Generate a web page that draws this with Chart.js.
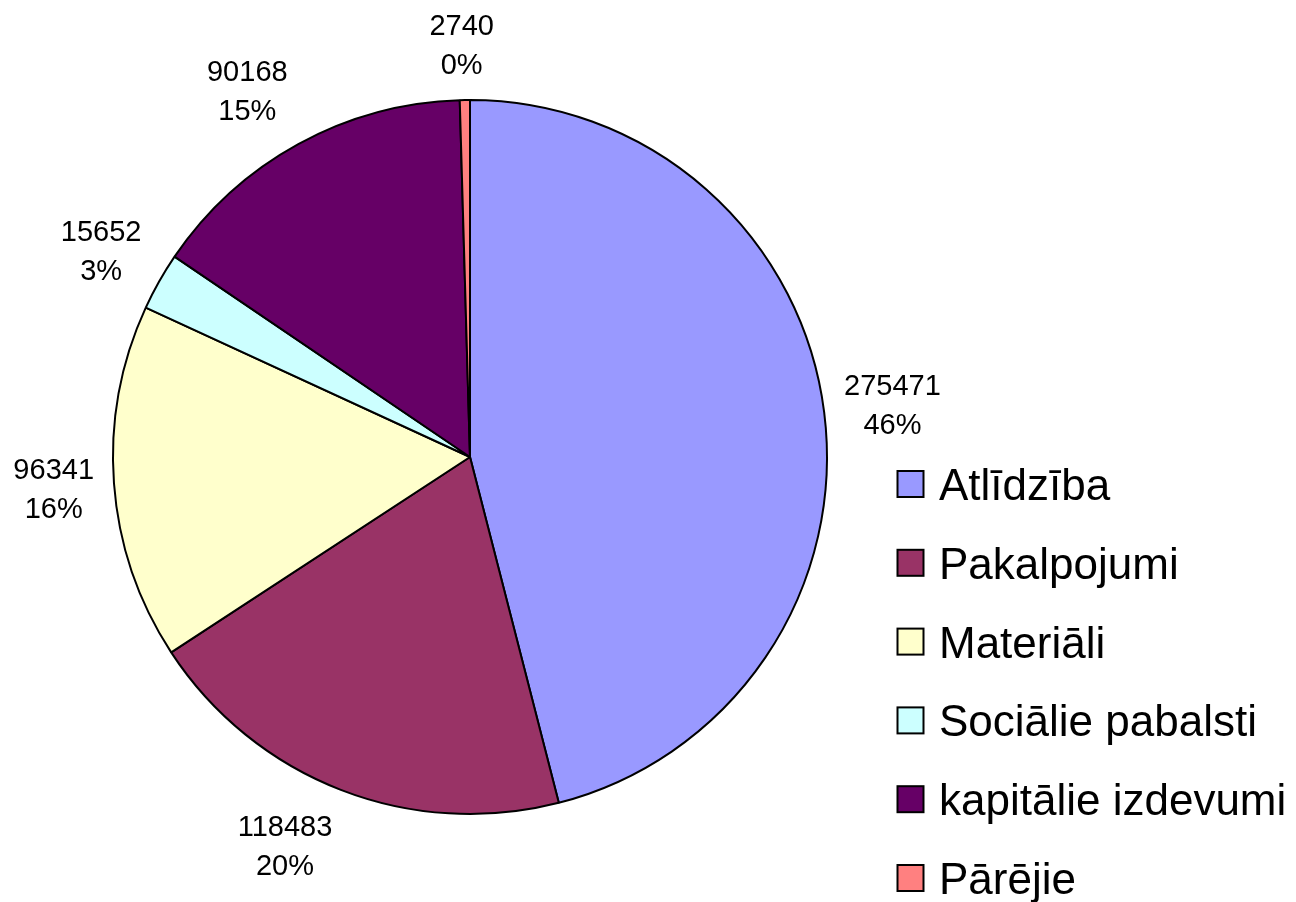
<!DOCTYPE html>
<html>
<head>
<meta charset="utf-8">
<script src="https://cdn.jsdelivr.net/npm/chart.js@4/dist/chart.umd.min.js"></script>
<style>
  html, body { margin: 0; padding: 0; background: #fff; }
  #wrap { width: 1296px; height: 902px; position: relative; }
</style>
</head>
<body>
<div id="wrap"><canvas id="c" width="1296" height="902"></canvas></div>
<script>
const categories = ["Atlīdzība", "Pakalpojumi", "Materiāli", "Sociālie pabalsti", "kapitālie izdevumi", "Pārējie"];
const values = [275471, 118483, 96341, 15652, 90168, 2740];
const colors = ["#9999FF", "#993366", "#FFFFCC", "#CCFFFF", "#660066", "#FF8080"];

const FONT = "'Liberation Sans', Arial, sans-serif";

const labelPlugin = {
  id: 'sliceLabels',
  afterDatasetsDraw(chart) {
    const ctx = chart.ctx;
    const meta = chart.getDatasetMeta(0);
    const data = chart.data.datasets[0].data;
    const total = data.reduce((a, b) => a + b, 0);
    ctx.save();
    ctx.font = "29px " + FONT;
    ctx.fillStyle = "#000";
    ctx.textAlign = "center";
    ctx.textBaseline = "alphabetic";
    const lineGap = 39, capH = 21;
    meta.data.forEach((arc, i) => {
      const p = arc.getProps(['x', 'y', 'startAngle', 'endAngle', 'outerRadius'], true);
      const mid = (p.startAngle + p.endAngle) / 2;
      const ux = Math.cos(mid), uy = Math.sin(mid);
      const D = p.outerRadius + 18;
      const ax = p.x + ux * D, ay = p.y + uy * D;
      const l1 = String(data[i]);
      const l2 = Math.round(data[i] / total * 100) + "%";
      const w = Math.max(ctx.measureText(l1).width, ctx.measureText(l2).width);
      const hw = w / 2 + 2, hh = 38;
      const clamp = v => Math.max(-1, Math.min(1, v));
      const cx = ax + hw * clamp(6 * ux);
      const cy = ay + hh * clamp(1.2 * uy);
      const top = cy - (lineGap + capH) / 2;
      ctx.fillText(l1, cx, top + capH);
      ctx.fillText(l2, cx, top + capH + lineGap);
    });
    ctx.restore();
  }
};

const legendPlugin = {
  id: 'sideLegend',
  afterDraw(chart) {
    const ctx = chart.ctx;
    const ds = chart.data.datasets[0];
    ctx.save();
    ctx.font = "44px " + FONT;
    ctx.textAlign = "left";
    ctx.textBaseline = "alphabetic";
    chart.data.labels.forEach((lab, i) => {
      const cy = 484 + i * 78.8;
      ctx.fillStyle = ds.backgroundColor[i];
      ctx.fillRect(897.5, cy - 13, 26, 26);
      ctx.lineWidth = 2;
      ctx.strokeStyle = "#000";
      ctx.strokeRect(897.5, cy - 13, 26, 26);
      ctx.fillStyle = "#000";
      ctx.fillText(lab, 939, cy + 16);
    });
    ctx.restore();
  }
};

new Chart(document.getElementById('c'), {
  type: 'pie',
  data: {
    labels: categories,
    datasets: [{
      data: values,
      backgroundColor: colors,
      borderColor: "#000",
      borderWidth: 2,
      hoverOffset: 0
    }]
  },
  options: {
    responsive: false,
    animation: false,
    events: [],
    layout: { padding: { left: 111, right: 467, top: 99, bottom: 87 } },
    plugins: {
      legend: { display: false },
      tooltip: { enabled: false },
      title: { display: false }
    }
  },
  plugins: [labelPlugin, legendPlugin]
});
</script>
</body>
</html>
